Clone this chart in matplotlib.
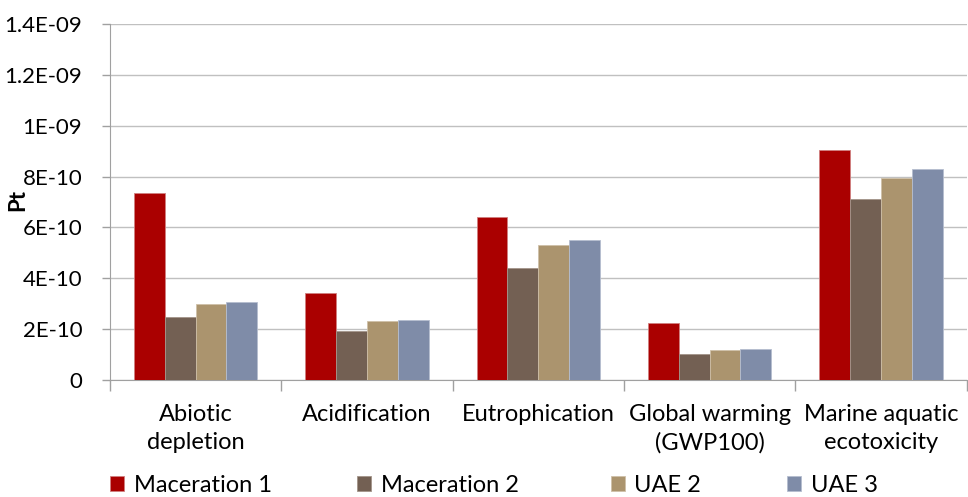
import numpy as np
import matplotlib.pyplot as plt
from matplotlib.patches import Patch

plt.rcParams['font.family'] = ['Lato', 'DejaVu Sans']

# 数据
categories = ['Abiotic\ndepletion', 'Acidification', 'Eutrophication',
              'Global warming\n(GWP100)', 'Marine aquatic\necotoxicity']
series = ['Maceration 1', 'Maceration 2', 'UAE 2', 'UAE 3']
maceration1 = [7.36e-10, 3.43e-10, 6.42e-10, 2.26e-10, 9.06e-10]
maceration2 = [2.48e-10, 1.93e-10, 4.41e-10, 1.01e-10, 7.13e-10]
uae2 = [2.99e-10, 2.32e-10, 5.31e-10, 1.18e-10, 7.93e-10]
uae3 = [3.07e-10, 2.36e-10, 5.50e-10, 1.22e-10, 8.31e-10]
yticks = [0, 2e-10, 4e-10, 6e-10, 8e-10, 1e-9, 1.2e-9, 1.4e-9]
ytick_labels = ['0', '2E-10', '4E-10', '6E-10', '8E-10', '1E-09', '1.2E-09', '1.4E-09']

colors = ['#AA0000', '#736053', '#AB946E', '#7F8CA8']
edges = ['#D08080', '#A39489', '#CFC0A8', '#B5BDCF']

fig = plt.figure(figsize=(9.68, 4.97), dpi=100)
ax = fig.add_axes([0.1136, 0.2354, 0.885, 0.7163])

x = np.arange(len(categories))
w = 0.18
data = [maceration1, maceration2, uae2, uae3]
for i, vals in enumerate(data):
    ax.bar(x + (i - 1.5) * w, vals, w, color=colors[i], edgecolor=edges[i],
           linewidth=0.6, zorder=3, label=series[i])

ax.set_xlim(-0.5, len(categories) - 0.5)
ax.set_ylim(0, 1.4e-9)
ax.set_yticks(yticks)
ax.set_yticklabels(ytick_labels, fontsize=16)
ax.yaxis.grid(True, color='#C0C0C0', linewidth=1, zorder=0)

ax.set_xticks(x)
ax.set_xticklabels(categories, fontsize=17, linespacing=1.45)
ax.set_xticks(np.arange(-0.5, len(categories)), minor=True)
ax.tick_params(axis='x', which='major', length=0, pad=17)
ax.tick_params(axis='x', which='minor', length=8, color='#A0A0A0', width=1)
ax.tick_params(axis='y', length=6, color='#A0A0A0', width=1, pad=14)

for s in ['top', 'right']:
    ax.spines[s].set_visible(False)
ax.spines['left'].set_color('#A0A0A0')
ax.spines['bottom'].set_color('#A0A0A0')

ax.set_ylabel('Pt', fontsize=16, fontweight='bold')
ax.yaxis.set_label_coords(-0.095, 0.505)

# 图例：每个条目单独放置
legend_x = [0.1136, 0.3688, 0.631, 0.813]
for c, e, name, lx in zip(colors, edges, series, legend_x):
    h = Patch(facecolor=c, edgecolor=e, linewidth=0.6)
    fig.legend([h], [name], loc='center left', bbox_to_anchor=(lx, 0.024),
               frameon=False, fontsize=17, handlelength=0.6, handleheight=0.6,
               handletextpad=0.4, borderpad=0, borderaxespad=0)

plt.savefig('out.png', dpi=100)
